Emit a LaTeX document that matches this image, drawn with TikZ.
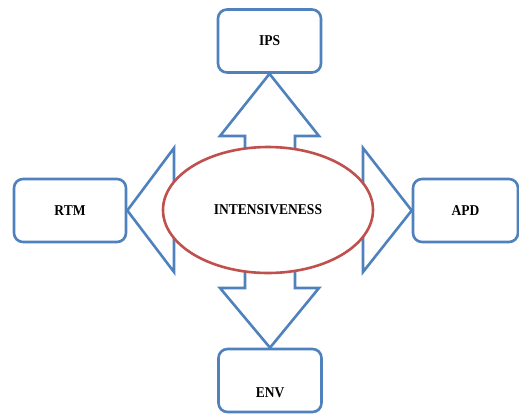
\documentclass[tikz,border=0pt]{standalone}
\usepackage{fontspec}
\usetikzlibrary{shapes.geometric}
\setmainfont{Liberation Serif}
\definecolor{boxblue}{HTML}{4F81BD}
\definecolor{ovalred}{HTML}{C0504D}
\newcommand{\lbltext}[1]{\scalebox{0.9}[1]{#1}}
\begin{document}
\begin{tikzpicture}[x=1pt,y=-1pt,
  lbl/.style={font=\fontsize{15}{15}\selectfont\bfseries},
  rbox/.style={lbl,draw=boxblue,line width=2.6pt,rounded corners=9pt,fill=white,
    minimum width=103pt,minimum height=63pt,inner sep=0pt},
  bigarrow/.style={draw=boxblue,line width=2.6pt,fill=white,line join=miter},
  oval/.style={lbl,draw=ovalred,line width=2.6pt,fill=white,ellipse,
    minimum width=210pt,minimum height=126pt,inner sep=0pt}]
\useasboundingbox (0,0) rectangle (519,415);

% outer boxes
\node[rbox] (ips) at (269.5,41) {\lbltext{IPS}};
\node[rbox,minimum width=112pt] (rtm) at (70,210.5) {\lbltext{RTM}};
\node[rbox,minimum width=105pt] (apd) at (465.5,210.5) {\lbltext{APD}};
\node[rbox,text height=48pt,text depth=15pt,minimum height=0pt] (env) at (270,380.5)
  {\lbltext{ENV}};

% block arrows from the centre out to each box
\draw[bigarrow] (245,180) -- (245,136) -- (220,136) -- (ips.south) -- (319,136) -- (295,136) -- (295,180) -- cycle;
\draw[bigarrow] (245,240) -- (245,288) -- (220,288) -- (env.north) -- (319,288) -- (295,288) -- (295,240) -- cycle;
\draw[bigarrow] (174,148) -- (rtm.east) -- (174,272) -- cycle;
\draw[bigarrow] (363,148) -- (apd.west) -- (363,272) -- cycle;

% central oval
\node[oval] (core) at (268,210) {\lbltext{INTENSIVENESS}};
\end{tikzpicture}
\end{document}
